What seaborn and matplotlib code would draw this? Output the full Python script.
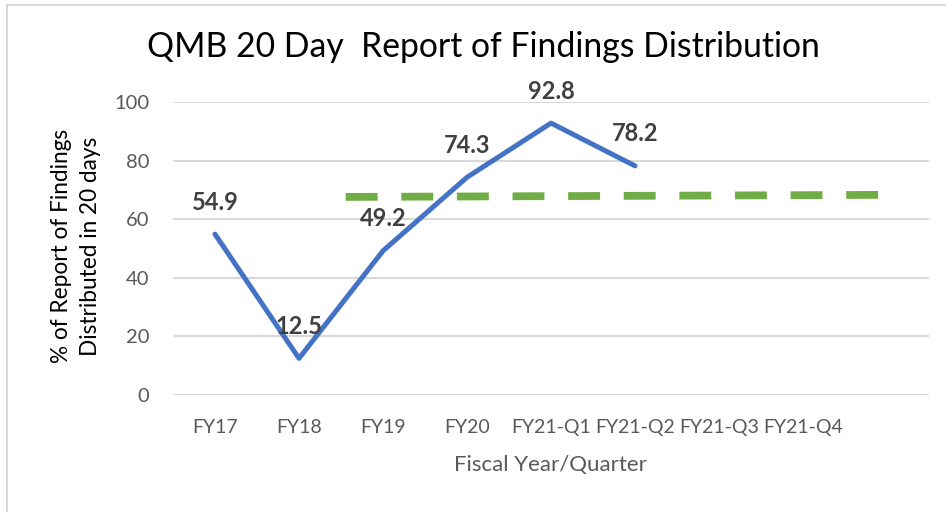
import matplotlib
matplotlib.use("Agg")
import matplotlib.pyplot as plt
import seaborn as sns
import numpy as np
from matplotlib.patches import Rectangle

# Quarterly / yearly share of reports distributed within 20 days
categories = ["FY17", "FY18", "FY19", "FY20", "FY21-Q1", "FY21-Q2", "FY21-Q3", "FY21-Q4"]
values = [54.9, 12.5, 49.2, 74.3, 92.8, 78.2]

# Goal line drawn across the chart (category-index positions and levels)
goal_x = [1.556, 7.92]
goal_y = [67.6, 68.3]

yticks = [0, 20, 40, 60, 80, 100]

sns.set_theme(style="white")
plt.rcParams["font.family"] = ["Lato", "DejaVu Sans"]

fig = plt.figure(figsize=(9.46, 5.12), dpi=100)
ax = fig.add_axes([173 / 946, 1 - 395 / 512, (929 - 173) / 946, (395 - 102) / 512])

# outer chart-area border
fig.patches.append(Rectangle((7 / 946, -0.1), 1.2, (1 - 5 / 512) + 0.1,
                             transform=fig.transFigure, fill=False,
                             edgecolor="#d9d9d9", linewidth=1.5))

x_idx = np.arange(len(values))

sns.lineplot(x=goal_x, y=goal_y, ax=ax, color="#70AD47", linewidth=5.6,
             dashes=False, zorder=3)
ax.lines[-1].set_dashes((4.1, 3.05))
ax.lines[-1].set_dash_capstyle("butt")

sns.lineplot(x=x_idx, y=values, ax=ax, color="#4472C4", linewidth=3.6, zorder=4)
ax.lines[-1].set_solid_capstyle("round")
ax.lines[-1].set_solid_joinstyle("round")

for xi, v in zip(x_idx, values):
    ax.annotate(f"{v:.1f}", (xi, v), xytext=(0, 23), textcoords="offset points",
                ha="center", va="center", fontsize=17, fontweight="bold",
                color="#404040", zorder=5)

ax.set_xlim(-0.5, len(categories) + 0.5)
ax.set_ylim(0, 100)
ax.set_yticks(yticks)
ax.set_yticklabels([str(t) for t in yticks])
ax.set_xticks(np.arange(len(categories)))
ax.set_xticklabels(categories)
ax.tick_params(axis="y", length=0, pad=17, labelsize=14.5, labelcolor="#595959")
ax.tick_params(axis="x", length=0, pad=17, labelsize=14, labelcolor="#595959")
ax.yaxis.grid(True, color="#d9d9d9", linewidth=1.5)
ax.xaxis.grid(False)
for s in ax.spines.values():
    s.set_visible(False)
ax.set_xlabel("")
ax.set_ylabel("")

fig.text(483 / 946, 1 - 47 / 512, "QMB 20 Day  Report of Findings Distribution",
         ha="center", va="center", fontsize=24.3, color="#000000")
fig.text(76 / 946, 1 - 246 / 512, "% of Report of Findings\nDistributed in 20 days",
         ha="center", va="center", rotation=90, fontsize=16.3, color="#000000",
         linespacing=1.45)
fig.text(550 / 946, 1 - 465 / 512, "Fiscal Year/Quarter",
         ha="center", va="center", fontsize=16, color="#595959")

fig.savefig("out.png", dpi=100)
